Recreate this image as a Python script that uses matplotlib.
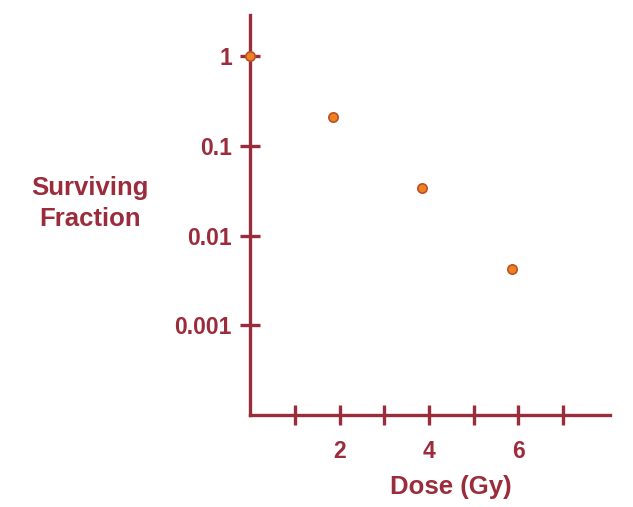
import matplotlib.pyplot as plt
import matplotlib.ticker as ticker

# Cell survival after irradiation
dose = [0, 1.86, 3.85, 5.86]
surviving = [1.0, 0.21, 0.034, 0.0043]

x_ticks = [1, 2, 3, 4, 5, 6, 7]
x_labels = ['', '2', '', '4', '', '6', '']
y_ticks = [1, 0.1, 0.01, 0.001]
y_labels = ['1', '0.1', '0.01', '0.001']

axis_color = '#9b2c3c'
dot_color = '#f0821e'
dot_edge = '#b8502c'

plt.rcParams['font.family'] = ['Liberation Sans', 'DejaVu Sans']
plt.rcParams['font.weight'] = 'bold'

fig = plt.figure(figsize=(6.33, 5.07), dpi=100)
ax = fig.add_axes([0.395, 0.181, 0.569, 0.789])

ax.scatter(dose, surviving, s=45, color=dot_color, edgecolors=dot_edge,
           linewidths=1.2, zorder=3, clip_on=False)

ax.set_yscale('log')
ax.set_xlim(0, 8.05)
ax.set_ylim(1e-4, 2.85)

for side in ['top', 'right']:
    ax.spines[side].set_visible(False)
for side in ['left', 'bottom']:
    ax.spines[side].set_color(axis_color)
    ax.spines[side].set_linewidth(2.4)

ax.set_xticks(x_ticks)
ax.set_xticklabels(x_labels)
ax.set_yticks(y_ticks)
ax.set_yticklabels(y_labels)
ax.yaxis.set_minor_locator(ticker.NullLocator())

ax.tick_params(axis='both', direction='inout', length=14, width=2.4,
               color=axis_color, labelcolor=axis_color, labelsize=16.5)
ax.tick_params(axis='x', pad=11)
ax.tick_params(axis='y', pad=6)

fig.text(0.142, 0.598, 'Surviving\nFraction', ha='center', va='center',
         fontsize=18.5, color=axis_color, fontweight='bold', linespacing=1.35)
fig.text(0.712, 0.04, 'Dose (Gy)', ha='center', va='center',
         fontsize=18.5, color=axis_color, fontweight='bold')

fig.savefig('out.png', dpi=100)
